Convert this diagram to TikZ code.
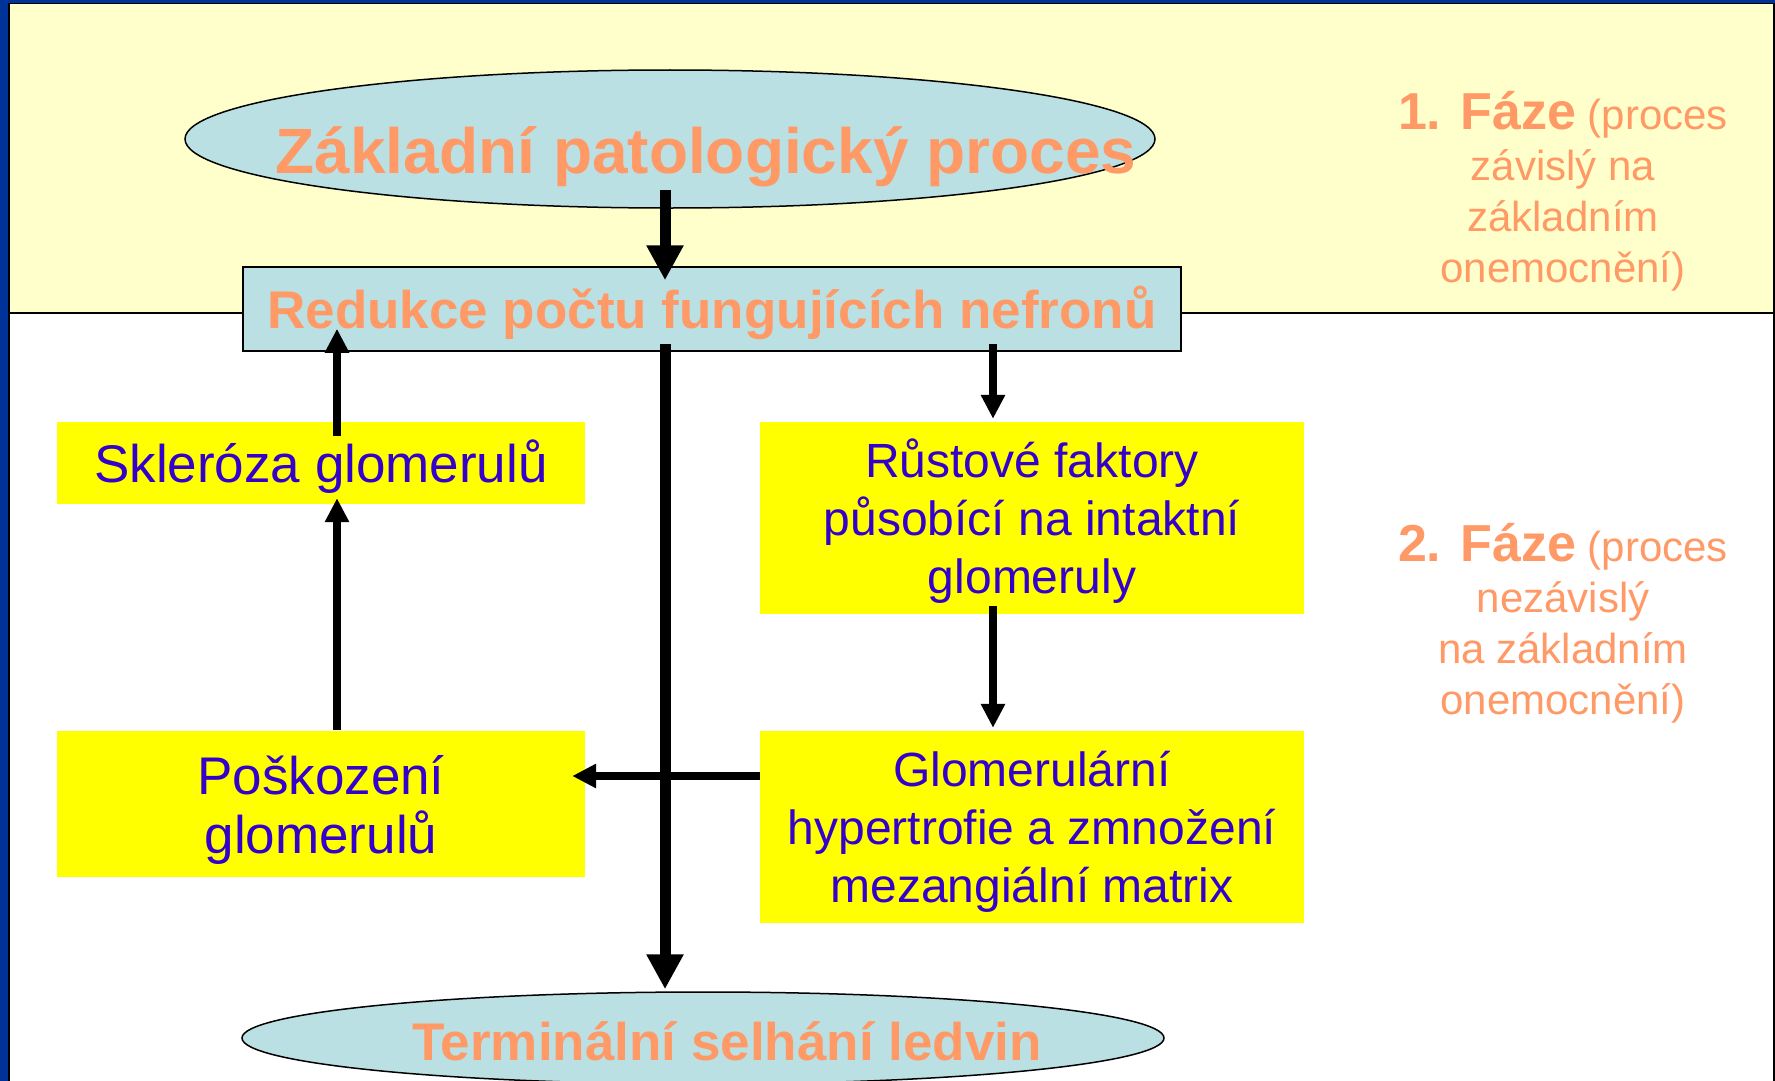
\documentclass[tikz,border=0pt]{standalone}
\usepackage{fontspec}
\setmainfont{Liberation Sans}
\usetikzlibrary{arrows.meta,shapes.geometric}
\definecolor{salmon}{HTML}{FF9966}
\definecolor{lblue}{HTML}{BBE0E3}
\definecolor{paleyellow}{HTML}{FFFFCC}
\definecolor{boxyellow}{HTML}{FFFF00}
\definecolor{txtblue}{HTML}{3300CC}
\definecolor{frameblue}{HTML}{003399}
\begin{document}
\begin{tikzpicture}[x=1pt,y=-1pt,
  ybox/.style={rectangle, fill=boxyellow, inner sep=0pt, align=center, text=txtblue,
     font=\fontsize{53}{59}\selectfont, text depth=0pt},
  ybox small/.style={ybox, font=\fontsize{48}{58}\selectfont},
  bluebox/.style={rectangle, draw=black, line width=1.5pt, fill=lblue, inner sep=0pt},
  blueell/.style={ellipse, draw=black, line width=1.5pt, fill=lblue, inner sep=0pt},
  salmontitle/.style={inner sep=0pt, text=salmon, text depth=0pt},
  phasetext/.style={anchor=base, align=center, text=salmon, inner sep=0pt,
     font=\fontsize{42}{51}\selectfont},
  bigarr/.style={line width=11pt, -{Triangle[width=35pt,length=35pt]}},
  smallarr/.style={line width=8pt, -{Triangle[width=23pt,length=24pt]}}]
\useasboundingbox (0,0) rectangle (1775,1081);
\clip (0,0) rectangle (1775,1081);
% background
\fill[white] (0,0) rectangle (1775,1081);
\fill[frameblue] (0,0) rectangle (8,1081);
\fill[frameblue] (0,0) rectangle (1775,3);
\draw[fill=paleyellow, line width=1.5pt] (8.5,3.5) rectangle (1773.5,313);
\draw[line width=2pt] (8.5,3.5) -- (8.5,1081);
\draw[line width=2pt] (1773.5,3.5) -- (1773.5,1081);

% nodes
\node[blueell, minimum width=970pt, minimum height=138pt] (topell) at (670,139) {};
\node[salmontitle, font=\bfseries\fontsize{64}{70}\selectfont, text height=46pt] (toptxt) at (706,150) {Základní patologický proces};

\node[bluebox, minimum width=938pt, minimum height=84pt, text=salmon,
      font=\bfseries\fontsize{53}{59}\selectfont, text height=38pt, text depth=0pt] (red) at (712,309) {Redukce počtu fungujících nefronů};

\node[ybox, minimum width=528pt, minimum height=82pt, text height=38pt] (skl) at (321,463) {Skleróza glomerulů};
\node[ybox, minimum width=528pt, minimum height=146pt, text height=98pt] (pos) at (321,804) {Poškození\\glomerulů};
\node[ybox small, minimum width=544pt, minimum height=192pt, text height=150pt] (rust) at (1032,518) {Růstové faktory\\působící na intaktní\\glomeruly};
\node[ybox small, minimum width=544pt, minimum height=192pt, text height=150pt] (glom) at (1032,827) {Glomerulární\\hypertrofie a zmnožení\\mezangiální matrix};

\node[blueell, minimum width=922pt, minimum height=92pt] (botell) at (703,1038) {};
\node[salmontitle, font=\bfseries\fontsize{53}{59}\selectfont, text height=38pt] (bottxt) at (727,1041) {Terminální selhání ledvin};

\node[phasetext] (ph1) at (1563,282) {{\bfseries\fontsize{52}{51}\selectfont 1. Fáze} (proces\\závislý na\\základním\\onemocnění)};
\node[phasetext] (ph2) at (1563,714) {{\bfseries\fontsize{52}{51}\selectfont 2. Fáze} (proces\\nezávislý\\na základním\\onemocnění)};

% connectors
\coordinate (sp) at (665,0);
\coordinate (lx) at (337,0);
\coordinate (rx) at (993,0);
\coordinate (hy) at (0,776);

\draw[bigarr] ([yshift=19pt]sp |- topell.south) -- ([yshift=-14pt]sp |- red.north);
\draw[bigarr] ([yshift=8pt]sp |- red.south) -- ([yshift=2pt]sp |- botell.north);
\draw[smallarr] ([yshift=-14pt]lx |- skl.north) -- ([yshift=23pt]lx |- red.south);
\draw[smallarr] ([yshift=1pt]lx |- pos.north) -- ([yshift=6pt]lx |- skl.south);
\draw[smallarr] ([yshift=8pt]rx |- red.south) -- ([yshift=3pt]rx |- rust.north);
\draw[smallarr] ([yshift=8pt]rx |- rust.south) -- ([yshift=3pt]rx |- glom.north);
\draw[smallarr] (glom.west |- hy) -- ([xshift=-13pt]pos.east |- hy);
\end{tikzpicture}
\end{document}
